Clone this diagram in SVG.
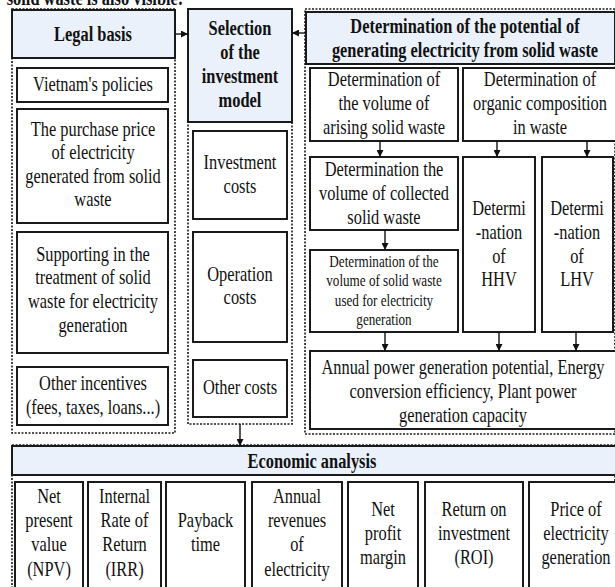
<svg xmlns="http://www.w3.org/2000/svg" width="615" height="587" viewBox="0 0 615 587">
<style>
.hdr{fill:#eaf1fb;stroke:#1a1a1a;stroke-width:2}
.box{fill:#fff;stroke:#1a1a1a;stroke-width:2}
.dot{fill:none;stroke:#1a1a1a;stroke-width:1.6;stroke-dasharray:2 1.5}
.t{font-family:"Liberation Serif","Times New Roman",serif;font-size:20px;text-anchor:middle;fill:#111}
.b{font-weight:bold}
.s{font-size:16px}
.c{stroke:#111;stroke-width:1.4;fill:none;marker-end:url(#ah)}
</style>
<defs>
<marker id="ah" viewBox="0 0 10 10" refX="10" refY="5" markerWidth="7" markerHeight="7" markerUnits="userSpaceOnUse" orient="auto">
<path d="M0,0 L10,5 L0,10 z" fill="#111"/>
</marker>
</defs>
<rect width="615" height="587" fill="#fff"/>
<text class="t b" transform="translate(95,0) scale(0.82,1)"><tspan x="0" y="5">solid waste is also visible:</tspan></text>

<g id="containers">
<rect class="dot" x="12" y="9" width="163" height="424"/>
<rect class="dot" x="188" y="9" width="104" height="415"/>
<rect class="dot" x="305" y="9" width="310" height="425"/>
<rect class="dot" x="12" y="445" width="603" height="160"/>
</g>

<g id="legal-basis"><rect class="hdr" x="12" y="10" width="163" height="48"/>
<text class="t b" transform="translate(93,0) scale(0.82,1)"><tspan x="0" y="41">Legal basis</tspan></text></g>

<g id="selection"><rect class="hdr" x="188" y="9" width="104" height="113"/>
<text class="t b" transform="translate(240,0) scale(0.82,1)"><tspan x="0" y="35">Selection</tspan><tspan x="0" y="59">of the</tspan><tspan x="0" y="83">investment</tspan><tspan x="0" y="107">model</tspan></text></g>

<g id="determination"><rect class="hdr" x="306" y="12" width="309" height="52"/>
<text class="t b" transform="translate(465,0) scale(0.82,1)"><tspan x="0" y="33">Determination of the potential of</tspan><tspan x="0" y="57">generating electricity from solid waste</tspan></text></g>

<g id="vietnam-policies"><rect class="box" x="17" y="68" width="151" height="34"/>
<text class="t" transform="translate(93,0) scale(0.82,1)"><tspan x="0" y="91">Vietnam's policies</tspan></text></g>

<g id="purchase-price"><rect class="box" x="17" y="109" width="151" height="114"/>
<text class="t" transform="translate(93,0) scale(0.82,1)"><tspan x="0" y="136">The purchase price</tspan><tspan x="0" y="159.5">of electricity</tspan><tspan x="0" y="183">generated from solid</tspan><tspan x="0" y="206.5">waste</tspan></text></g>

<g id="supporting"><rect class="box" x="17" y="232" width="151" height="121"/>
<text class="t" transform="translate(93,0) scale(0.82,1)"><tspan x="0" y="261">Supporting in the</tspan><tspan x="0" y="284.5">treatment of solid</tspan><tspan x="0" y="308">waste for electricity</tspan><tspan x="0" y="332">generation</tspan></text></g>

<g id="other-incentives"><rect class="box" x="17" y="367" width="151" height="58"/>
<text class="t" transform="translate(93,0) scale(0.82,1)"><tspan x="0" y="390">Other incentives</tspan><tspan x="0" y="414">(fees, taxes, loans...)</tspan></text></g>

<g id="investment-costs"><rect class="box" x="193" y="131" width="94" height="88"/>
<text class="t" transform="translate(240,0) scale(0.82,1)"><tspan x="0" y="169">Investment</tspan><tspan x="0" y="193">costs</tspan></text></g>

<g id="operation-costs"><rect class="box" x="193" y="232" width="94" height="110"/>
<text class="t" transform="translate(240,0) scale(0.82,1)"><tspan x="0" y="281">Operation</tspan><tspan x="0" y="304">costs</tspan></text></g>

<g id="other-costs"><rect class="box" x="193" y="360" width="94" height="57"/>
<text class="t" transform="translate(240,0) scale(0.82,1)"><tspan x="0" y="394">Other costs</tspan></text></g>

<g id="arising"><rect class="box" x="310" y="68" width="148" height="73"/>
<text class="t" transform="translate(384,0) scale(0.82,1)"><tspan x="0" y="86">Determination of</tspan><tspan x="0" y="110">the volume of</tspan><tspan x="0" y="134">arising solid waste</tspan></text></g>

<g id="organic"><rect class="box" x="463" y="68" width="155" height="73"/>
<text class="t" transform="translate(540,0) scale(0.82,1)"><tspan x="0" y="86">Determination of</tspan><tspan x="0" y="110">organic composition</tspan><tspan x="0" y="134">in waste</tspan></text></g>

<g id="collected"><rect class="box" x="310" y="157" width="148" height="73"/>
<text class="t" transform="translate(384,0) scale(0.82,1)"><tspan x="0" y="176">Determination the</tspan><tspan x="0" y="200">volume of collected</tspan><tspan x="0" y="224">solid waste</tspan></text></g>

<g id="used"><rect class="box" x="310" y="250" width="148" height="82"/>
<text class="t s" transform="translate(384,0) scale(0.82,1)"><tspan x="0" y="267">Determination of the</tspan><tspan x="0" y="286.5">volume of solid waste</tspan><tspan x="0" y="306">used for electricity</tspan><tspan x="0" y="325">generation</tspan></text></g>

<g id="hhv"><rect class="box" x="463" y="157" width="72" height="175"/>
<text class="t" transform="translate(499,0) scale(0.82,1)"><tspan x="0" y="215">Determi</tspan><tspan x="0" y="239">-nation</tspan><tspan x="0" y="263">of</tspan><tspan x="0" y="286">HHV</tspan></text></g>

<g id="lhv"><rect class="box" x="542" y="157" width="71" height="175"/>
<text class="t" transform="translate(577,0) scale(0.82,1)"><tspan x="0" y="215">Determi</tspan><tspan x="0" y="239">-nation</tspan><tspan x="0" y="263">of</tspan><tspan x="0" y="286">LHV</tspan></text></g>

<g id="annual-power"><rect class="box" x="310" y="351" width="308" height="78"/>
<text class="t" transform="translate(463,0) scale(0.82,1)"><tspan x="0" y="374">Annual power generation potential, Energy</tspan><tspan x="0" y="398">conversion efficiency, Plant power</tspan><tspan x="0" y="422">generation capacity</tspan></text></g>

<g id="economic"><rect class="hdr" x="12" y="446" width="606" height="29"/>
<text class="t b" transform="translate(312,0) scale(0.82,1)"><tspan x="0" y="468">Economic analysis</tspan></text></g>

<g id="npv"><rect class="box" x="15" y="482" width="68" height="110"/>
<text class="t" transform="translate(49,0) scale(0.82,1)"><tspan x="0" y="503">Net</tspan><tspan x="0" y="527">present</tspan><tspan x="0" y="551">value</tspan><tspan x="0" y="576">(NPV)</tspan></text></g>

<g id="irr"><rect class="box" x="88" y="482" width="73" height="110"/>
<text class="t" transform="translate(124.5,0) scale(0.82,1)"><tspan x="0" y="503">Internal</tspan><tspan x="0" y="527">Rate of</tspan><tspan x="0" y="551">Return</tspan><tspan x="0" y="576">(IRR)</tspan></text></g>

<g id="payback"><rect class="box" x="166" y="482" width="79" height="110"/>
<text class="t" transform="translate(205.5,0) scale(0.82,1)"><tspan x="0" y="527">Payback</tspan><tspan x="0" y="551">time</tspan></text></g>

<g id="revenues"><rect class="box" x="252" y="482" width="90" height="110"/>
<text class="t" transform="translate(297,0) scale(0.82,1)"><tspan x="0" y="503">Annual</tspan><tspan x="0" y="527">revenues</tspan><tspan x="0" y="551">of</tspan><tspan x="0" y="576">electricity</tspan></text></g>

<g id="net-profit"><rect class="box" x="348" y="482" width="70" height="110"/>
<text class="t" transform="translate(383,0) scale(0.82,1)"><tspan x="0" y="516">Net</tspan><tspan x="0" y="540">profit</tspan><tspan x="0" y="564">margin</tspan></text></g>

<g id="roi"><rect class="box" x="425" y="482" width="98" height="110"/>
<text class="t" transform="translate(474,0) scale(0.82,1)"><tspan x="0" y="516">Return on</tspan><tspan x="0" y="540">investment</tspan><tspan x="0" y="564">(ROI)</tspan></text></g>

<g id="price"><rect class="box" x="529" y="482" width="95" height="110"/>
<text class="t" transform="translate(576,0) scale(0.82,1)"><tspan x="0" y="516">Price of</tspan><tspan x="0" y="540">electricity</tspan><tspan x="0" y="564">generation</tspan></text></g>

<g id="connectors">
<line class="c" x1="175" y1="34" x2="188" y2="34"/>
<line class="c" x1="306" y1="33" x2="292" y2="33"/>
<line class="c" x1="240" y1="424" x2="240" y2="446"/>
<line class="c" x1="380" y1="141" x2="380" y2="157"/>
<line class="c" x1="385" y1="230" x2="385" y2="250"/>
<line class="c" x1="497" y1="141" x2="497" y2="157"/>
<line class="c" x1="587" y1="141" x2="587" y2="157"/>
<line class="c" x1="385" y1="332" x2="385" y2="351"/>
<line class="c" x1="499" y1="332" x2="499" y2="351"/>
<line class="c" x1="576" y1="332" x2="576" y2="351"/>
</g>
</svg>
